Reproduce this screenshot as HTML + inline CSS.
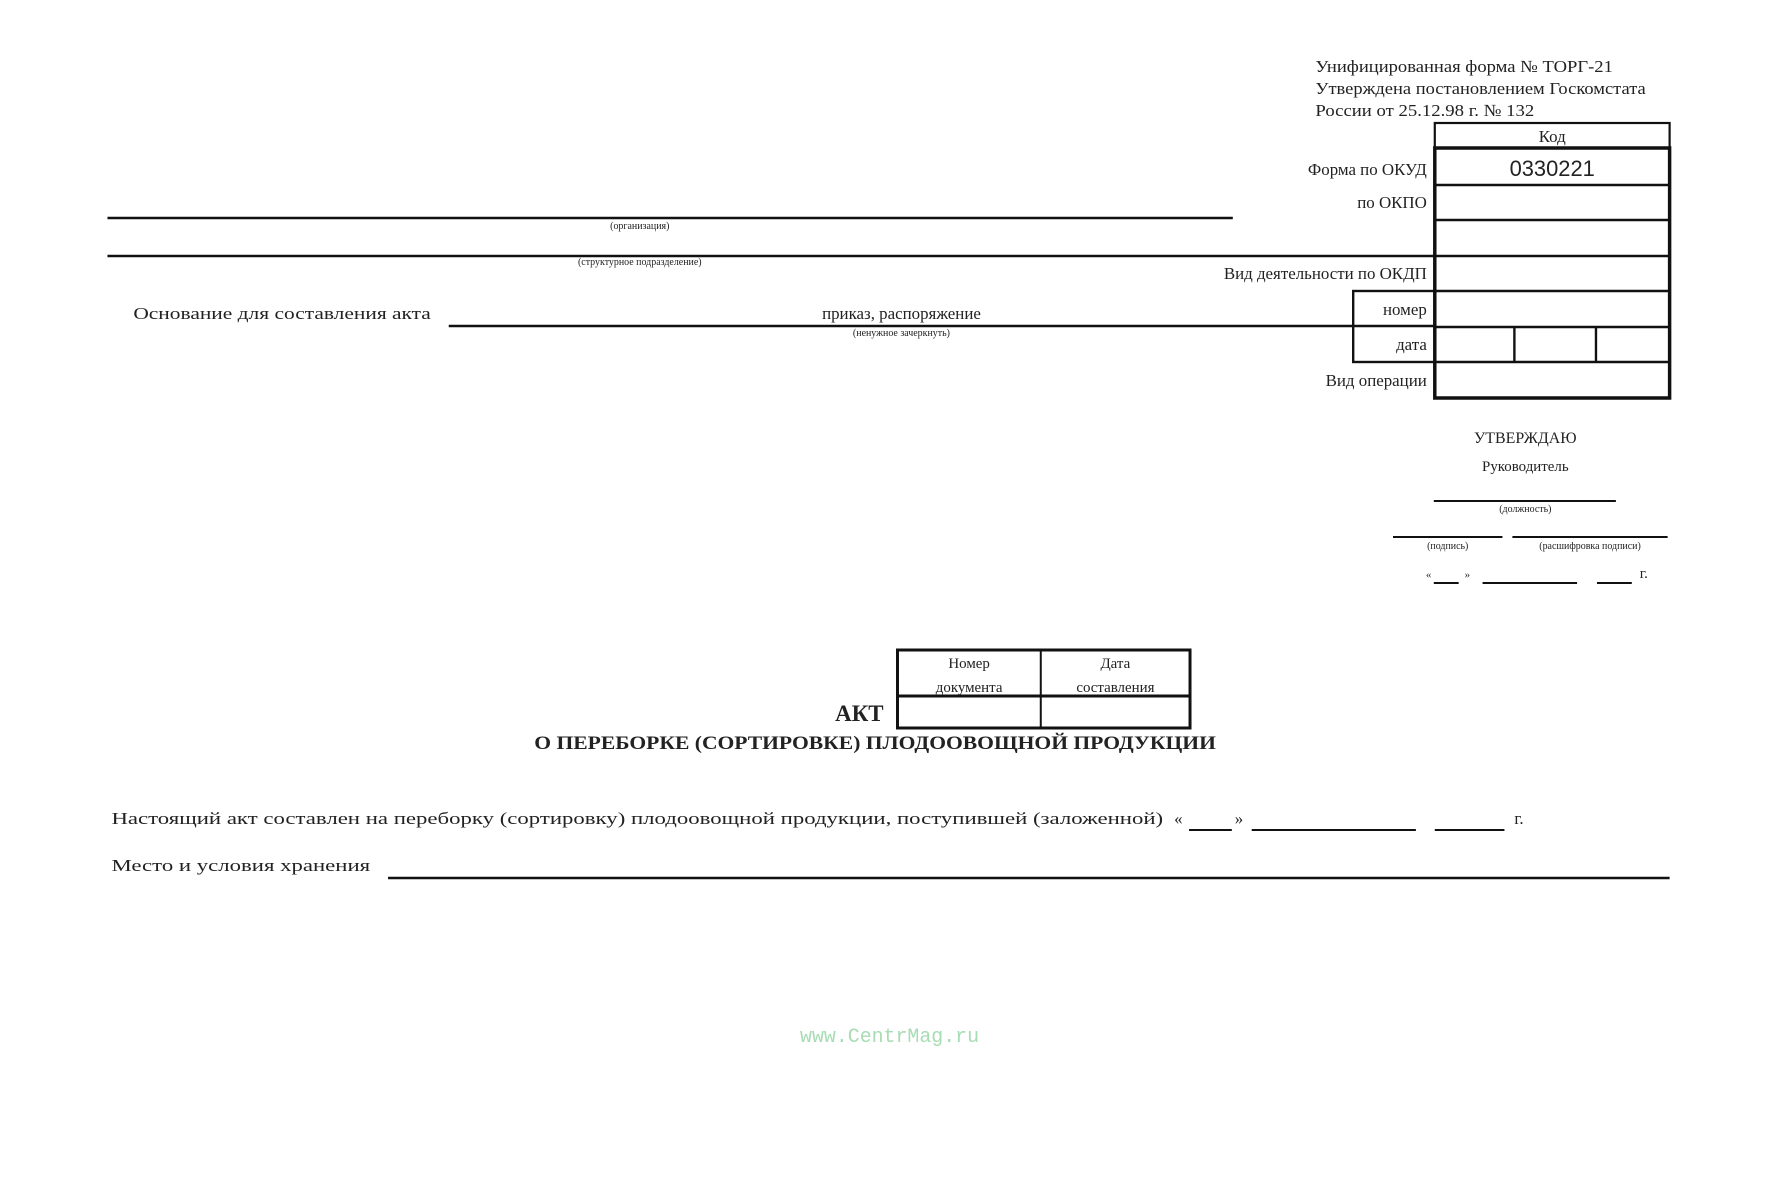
<!DOCTYPE html>
<html><head><meta charset="utf-8">
<style>
html,body{margin:0;padding:0;background:#fff;}
svg{display:block;}
text{font-family:"Liberation Serif","DejaVu Serif",serif;fill:#222;}
.s{font-size:17px;}
.c{font-size:10px;}
</style></head>
<body>
<svg width="1781" height="1199" viewBox="0 0 1781 1199" xmlns="http://www.w3.org/2000/svg">
<g transform="scale(0.995 1)">
<!-- header -->
<text class="s" x="1322" y="72" textLength="299" lengthAdjust="spacingAndGlyphs">Унифицированная форма № ТОРГ-21</text>
<text class="s" x="1322" y="94" textLength="332" lengthAdjust="spacingAndGlyphs">Утверждена постановлением Госкомстата</text>
<text class="s" x="1322" y="116" textLength="220" lengthAdjust="spacingAndGlyphs">России от 25.12.98 г. № 132</text>

<!-- code table -->
<g stroke="#111" fill="none">
<rect x="1442" y="123" width="236" height="25" stroke-width="2.2"/>
<rect x="1442" y="148" width="236" height="250" stroke-width="3.5"/>
<g stroke-width="2.4">
<line x1="1442" y1="185" x2="1678" y2="185"/>
<line x1="1442" y1="220" x2="1678" y2="220"/>
<line x1="1442" y1="256" x2="1678" y2="256"/>
<line x1="1442" y1="291" x2="1678" y2="291"/>
<line x1="1442" y1="327" x2="1678" y2="327"/>
<line x1="1442" y1="362" x2="1678" y2="362"/>
<line x1="1522" y1="327" x2="1522" y2="362"/>
<line x1="1604" y1="327" x2="1604" y2="362"/>
<rect x="1360" y="291" width="82" height="71"/>
</g>
</g>
<text class="s" x="1560" y="142" text-anchor="middle">Код</text>
<text x="1560" y="176" text-anchor="middle" style="font-family:'Liberation Sans',sans-serif;font-size:22px">0330221</text>
<g class="s" text-anchor="end">
<text x="1434" y="175">Форма по ОКУД</text>
<text x="1434" y="208">по ОКПО</text>
<text x="1434" y="279">Вид деятельности по ОКДП</text>
<text x="1434" y="315">номер</text>
<text x="1434" y="350">дата</text>
<text x="1434" y="386">Вид операции</text>
</g>

<!-- left lines -->
<g stroke="#111" stroke-width="2.5">
<line x1="108" y1="218" x2="1239" y2="218"/>
<line x1="108" y1="256" x2="1442" y2="256"/>
<line x1="451" y1="326" x2="1442" y2="326"/>
</g>
<text class="c" x="643" y="229" text-anchor="middle">(организация)</text>
<text class="c" x="643" y="265" text-anchor="middle">(структурное подразделение)</text>
<text class="s" x="134" y="319" textLength="299" lengthAdjust="spacingAndGlyphs">Основание для составления акта</text>
<text class="s" x="906" y="319" text-anchor="middle">приказ, распоряжение</text>
<text class="c" x="906" y="336" text-anchor="middle">(ненужное зачеркнуть)</text>

<!-- approve -->
<text x="1533" y="443" text-anchor="middle" style="font-size:16px">УТВЕРЖДАЮ</text>
<text x="1533" y="471" text-anchor="middle" style="font-size:15px">Руководитель</text>
<g stroke="#111" stroke-width="2">
<line x1="1441" y1="501" x2="1624" y2="501"/>
<line x1="1400" y1="537" x2="1510" y2="537"/>
<line x1="1520" y1="537" x2="1676" y2="537"/>
<line x1="1441" y1="583" x2="1466" y2="583"/>
<line x1="1490" y1="583" x2="1585" y2="583"/>
<line x1="1605" y1="583" x2="1640" y2="583"/>
</g>
<text class="c" x="1533" y="512" text-anchor="middle">(должность)</text>
<text class="c" x="1455" y="549" text-anchor="middle">(подпись)</text>
<text class="c" x="1598" y="549" text-anchor="middle">(расшифровка подписи)</text>
<text x="1433" y="578" style="font-size:11px">«</text>
<text x="1472" y="578" style="font-size:11px">»</text>
<text x="1648" y="578" style="font-size:15px">г.</text>

<!-- small table -->
<g stroke="#111" fill="none">
<rect x="902" y="650" width="294" height="78" stroke-width="3"/>
<line x1="902" y1="696" x2="1196" y2="696" stroke-width="3"/>
<line x1="1046" y1="650" x2="1046" y2="728" stroke-width="2"/>
</g>
<g style="font-size:15px" text-anchor="middle">
<text x="974" y="668">Номер</text>
<text x="974" y="692">документа</text>
<text x="1121" y="668">Дата</text>
<text x="1121" y="692">составления</text>
</g>
<text x="888" y="721" text-anchor="end" style="font-size:23px;font-weight:bold">АКТ</text>
<text x="537" y="749" textLength="685" lengthAdjust="spacingAndGlyphs" style="font-size:19px;font-weight:bold">О ПЕРЕБОРКЕ (СОРТИРОВКЕ) ПЛОДООВОЩНОЙ ПРОДУКЦИИ</text>

<!-- body -->
<text class="s" x="112" y="824" textLength="1057" lengthAdjust="spacingAndGlyphs">Настоящий акт составлен на переборку (сортировку) плодоовощной продукции, поступившей (заложенной)</text>
<text class="s" x="1180" y="824">«</text>
<text class="s" x="1241" y="824">»</text>
<text class="s" x="1522" y="824">г.</text>
<g stroke="#111" stroke-width="2">
<line x1="1195" y1="830" x2="1238" y2="830"/>
<line x1="1258" y1="830" x2="1423" y2="830"/>
<line x1="1442" y1="830" x2="1512" y2="830"/>
<line x1="390" y1="878" x2="1678" y2="878" stroke-width="2.5"/>
</g>
<text class="s" x="112" y="871" textLength="260" lengthAdjust="spacingAndGlyphs">Место и условия хранения</text>

<text x="894" y="1042" text-anchor="middle" style="font-family:'Liberation Mono',monospace;font-size:20px;fill:#a8dcb4">www.CentrMag.ru</text>
</g>
</svg>
</body></html>
